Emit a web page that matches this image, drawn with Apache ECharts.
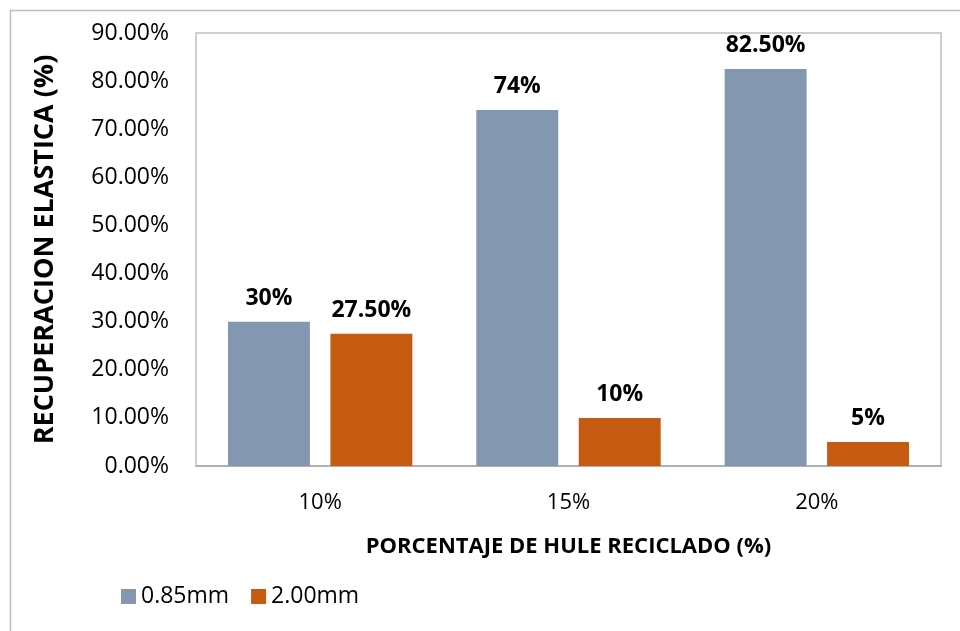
<!DOCTYPE html>
<html>
<head>
<meta charset="utf-8">
<script src="https://cdn.jsdelivr.net/npm/echarts@6/dist/echarts.min.js"></script>
<style>
  html, body { margin: 0; padding: 0; background: #fff; }
  #chart { width: 960px; height: 631px; }
</style>
</head>
<body>
<div id="chart"></div>
<script>
// Recuperación elástica según porcentaje de hule reciclado
const categories = ['10%', '15%', '20%'];
const seriesNames = ['0.85mm', '2.00mm'];
const fine = [30, 74, 82.5];     // 0.85mm
const coarse = [27.5, 10, 5];    // 2.00mm
const yTicks = { min: 0, max: 90, step: 10 };

const FONT = 'Open Sans';
const fmtPct = v => (Number.isInteger(v) ? v + '%' : v.toFixed(2) + '%');

const chart = echarts.init(document.getElementById('chart'), null, { renderer: 'canvas' });

const labelStyle = {
  show: true,
  position: 'top',
  distance: 12,
  fontFamily: FONT,
  fontWeight: 'bold',
  fontSize: 23,
  color: '#000',
  formatter: p => fmtPct(p.value)
};

chart.setOption({
  animation: false,
  backgroundColor: '#fff',
  textStyle: { fontFamily: FONT },
  graphic: [{
    type: 'polyline',
    shape: { points: [[10.5, 631], [10.5, 10.5], [960, 10.5]] },
    style: { stroke: '#bdbdbd', lineWidth: 1.5, fill: null }
  }],
  grid: {
    left: 196, right: 19, top: 33, bottom: 165,
    show: true, borderColor: '#bfbfbf', borderWidth: 1.5
  },
  legend: {
    left: 116, top: 580,
    itemWidth: 15, itemHeight: 15, itemGap: 22,
    icon: 'rect',
    textStyle: { fontFamily: FONT, fontSize: 23, color: '#000' },
    data: seriesNames
  },
  xAxis: {
    type: 'category',
    data: categories,
    name: 'PORCENTAJE DE HULE RECICLADO (%)',
    nameLocation: 'middle',
    nameGap: 70,
    nameTextStyle: { fontFamily: FONT, fontWeight: 'bold', fontSize: 22, color: '#000', verticalAlign: 'top' },
    axisLine: { lineStyle: { color: '#a6a6a6', width: 1.5 } },
    axisTick: { show: false },
    axisLabel: { fontFamily: FONT, fontSize: 22, color: '#000', margin: 26 }
  },
  yAxis: {
    type: 'value',
    min: yTicks.min, max: yTicks.max, interval: yTicks.step,
    name: 'RECUPERACION ELASTICA (%)',
    nameLocation: 'middle',
    nameGap: 137,
    nameTextStyle: { fontFamily: FONT, fontWeight: 'bold', fontSize: 27, color: '#000' },
    axisLine: { show: false },
    axisTick: { show: false },
    splitLine: { show: false },
    axisLabel: { fontFamily: FONT, fontSize: 23, color: '#000', margin: 27, formatter: v => v.toFixed(2) + '%' }
  },
  series: [
    {
      name: seriesNames[0], type: 'bar', data: fine,
      barWidth: '33%', barGap: '25%',
      itemStyle: { color: '#8497B0' },
      label: labelStyle
    },
    {
      name: seriesNames[1], type: 'bar', data: coarse,
      barWidth: '33%', barGap: '25%',
      itemStyle: { color: '#C55A11' },
      label: labelStyle
    }
  ]
});
</script>
</body>
</html>
